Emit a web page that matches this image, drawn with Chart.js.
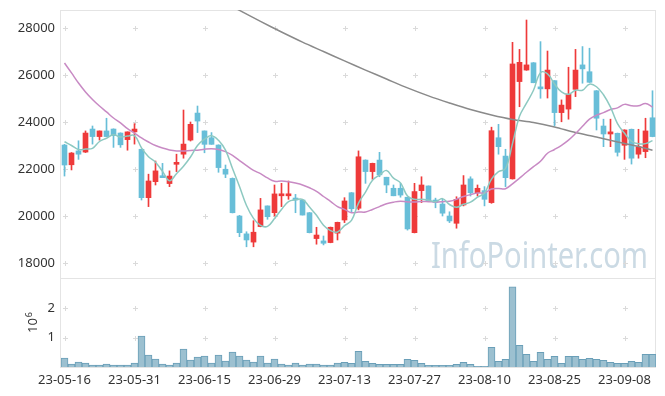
<!DOCTYPE html>
<html>
<head>
<meta charset="utf-8">
<script src="https://cdn.jsdelivr.net/npm/chart.js"></script>
<style>
  html, body { margin: 0; padding: 0; background: #fff; }
  #wrap { width: 665px; height: 396px; }
</style>
</head>
<body>
<div id="wrap"><canvas id="stockChart" width="665" height="396"></canvas></div>
<script>
// trading days (23-05-16 .. 23-09-14)
var dates = ['23-05-16','23-05-17','23-05-18','23-05-19','23-05-22','23-05-23','23-05-24','23-05-25','23-05-26','23-05-30',
  '23-05-31','23-06-01','23-06-02','23-06-05','23-06-07','23-06-08','23-06-09','23-06-12','23-06-13','23-06-14',
  '23-06-15','23-06-16','23-06-19','23-06-20','23-06-21','23-06-22','23-06-23','23-06-26','23-06-27','23-06-28',
  '23-06-29','23-06-30','23-07-03','23-07-04','23-07-05','23-07-06','23-07-07','23-07-10','23-07-11','23-07-12',
  '23-07-13','23-07-14','23-07-17','23-07-18','23-07-19','23-07-20','23-07-21','23-07-24','23-07-25','23-07-26',
  '23-07-27','23-07-28','23-07-31','23-08-01','23-08-02','23-08-03','23-08-04','23-08-07','23-08-08','23-08-09',
  '23-08-10','23-08-11','23-08-14','23-08-16','23-08-17','23-08-18','23-08-21','23-08-22','23-08-23','23-08-24',
  '23-08-25','23-08-28','23-08-29','23-08-30','23-08-31','23-09-01','23-09-04','23-09-05','23-09-06','23-09-07',
  '23-09-08','23-09-11','23-09-12','23-09-13','23-09-14'];

var openP = [23020,22180,22770,22720,23700,23380,23620,23700,23530,23250,
  23580,22840,20780,21460,21700,21380,22200,22630,23230,24380,
  23620,23330,23020,21990,21600,20000,19240,18890,19550,20430,
  20140,20860,20860,20750,20680,20140,19040,18940,18870,19270,
  19830,20990,20330,22380,21890,22380,21650,21180,21180,20800,
  19290,21080,21280,20680,20510,20000,19690,20470,21580,20990,
  21080,20570,23330,22550,21580,25720,26210,26520,25460,25410,
  25760,24400,24550,25390,26430,26140,25330,23830,23490,23520,
  23010,23690,22630,22740,24180];
var highP = [23050,22700,23200,23620,23830,23620,24160,23710,23540,23580,
  23930,22850,21780,22340,22240,21920,22630,24510,24000,24680,
  23620,23550,23030,22170,21620,20030,19330,19800,20750,20430,
  21320,21390,21490,20920,20700,20150,19520,19150,19530,19740,
  20780,21000,22770,22390,22250,22710,21650,21320,21390,20800,
  21390,21670,21280,20760,20710,20180,20820,21720,21670,21320,
  21250,23780,23900,22840,27390,27090,28340,26530,27420,27020,
  25760,24940,26330,27090,27210,27140,25340,24120,24120,23530,
  23670,23700,23690,24160,25330];
var lowP = [21700,21960,22410,22700,23060,23230,23380,22920,22920,22800,
  23060,20680,20400,21320,21630,21250,21890,22460,23190,23550,
  22690,23050,21860,21630,20130,19120,18690,18690,19540,19860,
  20000,20400,20710,20140,20040,19280,18800,18770,18860,18980,
  19720,20170,20260,21390,21560,21670,20990,20860,20800,19400,
  19280,20570,20630,20350,20000,19720,19480,20430,20850,20850,
  20430,20540,22630,21250,21570,24650,26200,25670,25010,25020,
  23830,24010,24120,25080,25650,25680,23660,22950,22950,22550,
  22410,22210,22460,22480,23370];
var closeP = [22170,22680,22630,23530,23380,23620,23380,23420,23030,23580,
  23700,20780,21490,21920,21630,21700,22270,23060,23900,24040,
  23050,23050,22060,21780,20140,19290,18980,19310,20260,19970,
  20940,20940,20940,20680,20040,19290,19190,18840,19520,19730,
  20640,20310,22520,21890,22240,21750,21320,20860,20890,19450,
  21040,21320,20640,20580,20120,19790,20710,21320,20990,21180,
  20710,23630,22950,21630,26470,26540,26430,25670,25410,26210,
  24400,24720,25180,26210,26260,25690,24160,23490,23580,22710,
  23660,22460,22950,23620,23380];

var volume = [305000,100000,170000,135000,68000,68000,100000,68000,68000,68000,
  135000,1050000,407000,270000,100000,68000,135000,610000,237000,340000,
  373000,135000,407000,203000,508000,373000,237000,170000,373000,135000,
  270000,100000,68000,135000,68000,100000,100000,68000,68000,130000,
  160000,124000,530000,190000,124000,90000,90000,90000,90000,260000,
  226000,124000,57000,57000,57000,57000,90000,160000,90000,20000,
  20000,667000,190000,260000,2730000,734000,430000,190000,497000,260000,
  360000,124000,360000,360000,260000,294000,260000,226000,160000,124000,
  124000,190000,160000,430000,430000];

// moving averages
var ma5 = [23160,23000,22830,22850,22880,23170,23310,23460,23360,23400,
  23420,22900,22520,22290,21900,21500,21800,22120,22510,23000,
  23270,23420,23220,22800,22020,21260,20450,19900,19600,19560,
  19890,20280,20610,20690,20710,20380,20030,19610,19380,19320,
  19590,19810,20550,21020,21520,21740,21940,21610,21410,20850,
  20710,20710,20670,20610,20740,20490,20370,20500,20590,20800,
  20980,21570,21890,22020,23080,24240,24800,25350,26100,26050,
  25620,25280,25180,25350,25350,25610,25500,25160,24630,23930,
  23520,23180,23070,23080,23210];
var ma20 = [26510,26090,25660,25280,24960,24680,24430,24170,23960,23720,
  23530,23320,23150,23000,22890,22810,22770,22770,22790,22800,
  22840,22860,22830,22740,22580,22360,22140,21940,21800,21620,
  21480,21490,21460,21400,21320,21200,21050,20830,20620,20400,
  20280,20140,20170,20170,20280,20400,20520,20590,20630,20600,
  20600,20620,20610,20600,20610,20630,20710,20830,20910,20980,
  20980,21150,21170,21160,21370,21610,21860,22100,22330,22670,
  22830,23010,23230,23510,23820,24120,24290,24400,24530,24600,
  24750,24690,24690,24790,24640];
// long average, read every third day
var ma60Idx = [22,25,28,31,34,37,40,43,46,49,52,55,58,61,64,67,70,73,76,79,82,84];
var ma60Val = [29210,28750,28280,27830,27400,27000,26600,26210,25830,25450,25110,24810,
  24530,24300,24110,23980,23790,23550,23360,23150,22960,22800];

var priceTicks = [18000, 20000, 22000, 24000, 26000, 28000];
var volTicks = [1000000, 2000000];

var UP = '#ee3a3a', DOWN = '#68bed8';
var candleColor = closeP.map(function (c, i) { return c >= openP[i] ? UP : DOWN; });

var ma60 = ma60Idx.map(function (idx, k) { return { x: dates[idx], y: ma60Val[k] }; });

// frame, '+' marks at tick crossings and the watermark
var decorPlugin = {
  id: 'decor',
  beforeDatasetsDraw: function (chart) {
    var ctx = chart.ctx, a = chart.chartArea;
    var xs = chart.scales.x, yp = chart.scales.y, yv = chart.scales.yv;
    ctx.save();
    // watermark
    ctx.fillStyle = '#cbdae4';
    ctx.font = '36px "Noto Sans"';
    ctx.textBaseline = 'alphabetic';
    var w = ctx.measureText('InfoPointer.com').width;
    ctx.translate(431, 268);
    ctx.scale(217 / w, 1);
    ctx.fillText('InfoPointer.com', 0, 0);
    ctx.restore();

    ctx.save();
    ctx.strokeStyle = '#e4e4e4';
    ctx.lineWidth = 1;
    ctx.strokeRect(a.left - 0.5, a.top + 0.5, a.right - a.left, a.bottom - a.top);
    ctx.beginPath();
    ctx.moveTo(a.left, Math.round(yv.top) + 0.5);
    ctx.lineTo(a.right, Math.round(yv.top) + 0.5);
    ctx.stroke();

    ctx.strokeStyle = '#dadada';
    var yPix = priceTicks.map(function (v) { return yp.getPixelForValue(v); })
      .concat(volTicks.map(function (v) { return yv.getPixelForValue(v); }));
    for (var i = 0; i < dates.length; i += 10) {
      var px = Math.round(xs.getPixelForValue(i)) + 0.5;
      yPix.forEach(function (py) {
        py = Math.round(py) + 0.5;
        ctx.beginPath();
        ctx.moveTo(px - 2.5, py); ctx.lineTo(px + 2.5, py);
        ctx.moveTo(px, py - 2.5); ctx.lineTo(px, py + 2.5);
        ctx.stroke();
      });
    }
    ctx.restore();
  },
  afterDraw: function (chart) {
    // 10^6 unit of the volume axis
    var ctx = chart.ctx;
    ctx.save();
    ctx.fillStyle = '#333';
    ctx.translate(37, 333);
    ctx.rotate(-Math.PI / 2);
    ctx.font = '13px "Noto Sans"';
    ctx.textBaseline = 'alphabetic';
    ctx.fillText('10', 0, 0);
    var w = ctx.measureText('10').width;
    ctx.font = '9px "Noto Sans"';
    ctx.fillText('6', w + 1, -5);
    ctx.restore();
  }
};

// fixed axis box, no extra room for half labels
function fitLeftAxis(s) {
  s.width = 61;
  s.paddingTop = 0;
  s.paddingBottom = 0;
}

Chart.defaults.font.family = '"Noto Sans", sans-serif';
Chart.defaults.font.size = 13;
Chart.defaults.color = '#333';

var ctx = document.getElementById('stockChart').getContext('2d');
var stockChart = new Chart(ctx, {
  type: 'bar',
  data: {
    labels: dates,
    datasets: [
      {
        type: 'line', label: 'MA5', data: ma5, yAxisID: 'y',
        borderColor: '#8dc9c1', borderWidth: 1.5, pointRadius: 0, tension: 0.4, order: 0
      },
      {
        type: 'line', label: 'MA20', data: ma20, yAxisID: 'y',
        borderColor: '#c88ac4', borderWidth: 1.5, pointRadius: 0, tension: 0.4, order: 0
      },
      {
        type: 'line', label: 'MA60', data: ma60, yAxisID: 'y',
        borderColor: '#8a8a8a', borderWidth: 1.5, pointRadius: 0, tension: 0.3, order: 0
      },
      {
        label: 'wick', yAxisID: 'y', grouped: false, order: 2,
        data: lowP.map(function (l, i) { return [l, highP[i]]; }),
        backgroundColor: candleColor, barThickness: 1
      },
      {
        label: 'body', yAxisID: 'y', grouped: false, order: 1,
        data: openP.map(function (o, i) { return [o, closeP[i]]; }),
        backgroundColor: candleColor, barThickness: 5, minBarLength: 2
      },
      {
        label: 'volume', yAxisID: 'yv', grouped: false, order: 3,
        data: volume,
        backgroundColor: '#9cc0d0', borderColor: '#6a9fb8', borderWidth: 1,
        barPercentage: 1, categoryPercentage: 1
      }
    ]
  },
  options: {
    responsive: false,
    animation: false,
    devicePixelRatio: 1,
    layout: { padding: { left: 0, right: 9, top: 10, bottom: 0 } },
    plugins: { legend: { display: false }, tooltip: { enabled: false } },
    scales: {
      x: {
        grid: { display: false, drawTicks: false },
        border: { display: false },
        ticks: {
          autoSkip: false, maxRotation: 0, padding: 5,
          callback: function (val, idx) { return idx % 10 === 0 ? dates[idx] : null; }
        },
        afterFit: function (s) { s.height = 29; }
      },
      // volume pane is listed first so that the price pane sits on top
      yv: {
        position: 'left', stack: 'panes', stackWeight: 89,
        min: 0, max: 3030000,
        grid: { display: false, drawTicks: false },
        border: { display: false },
        ticks: { padding: 6, callback: function (v) { return String(v / 1000000); } },
        afterBuildTicks: function (s) { s.ticks = volTicks.map(function (v) { return { value: v }; }); },
        afterFit: fitLeftAxis
      },
      y: {
        position: 'left', stack: 'panes', stackWeight: 268,
        min: 17362, max: 28766,
        grid: { display: false, drawTicks: false },
        border: { display: false },
        ticks: { padding: 6, callback: function (v) { return String(v); } },
        afterBuildTicks: function (s) { s.ticks = priceTicks.map(function (v) { return { value: v }; }); },
        afterFit: fitLeftAxis
      }
    }
  },
  plugins: [decorPlugin]
});
</script>
</body>
</html>
